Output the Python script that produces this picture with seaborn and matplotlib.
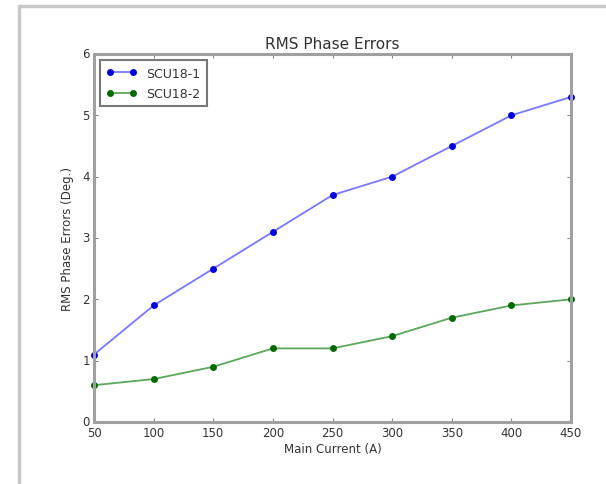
import matplotlib
matplotlib.use("Agg")
import matplotlib.pyplot as plt
from matplotlib.lines import Line2D
import seaborn as sns
import pandas as pd

# data
current = [50, 100, 150, 200, 250, 300, 350, 400, 450]
scu18_1 = [1.1, 1.9, 2.5, 3.1, 3.7, 4.0, 4.5, 5.0, 5.3]
scu18_2 = [0.6, 0.7, 0.9, 1.2, 1.2, 1.4, 1.7, 1.9, 2.0]

df = pd.DataFrame({
    "Main Current (A)": current * 2,
    "RMS Phase Errors (Deg.)": scu18_1 + scu18_2,
    "magnet": ["SCU18-1"] * len(current) + ["SCU18-2"] * len(current),
})

plt.style.use("classic")
sns.set_style("ticks", {"xtick.direction": "in", "ytick.direction": "in"})
plt.rcParams["font.family"] = ["DejaVu Sans"]

fig = plt.figure(figsize=(6.06, 4.85), dpi=100, facecolor="white")
ax = fig.add_axes([94 / 606, 1 - 423 / 485, (571 - 94) / 606, (423 - 55) / 485])

line_col = {"SCU18-1": "#7878ff", "SCU18-2": "#5aa85a"}
dot_col = {"SCU18-1": "#0000e0", "SCU18-2": "#006a00"}

sns.lineplot(data=df, x="Main Current (A)", y="RMS Phase Errors (Deg.)",
             hue="magnet", palette=line_col, marker="o", markersize=5,
             markeredgewidth=0, linewidth=1.3, ax=ax, legend=False)
for ln, name in zip(ax.lines, ["SCU18-1", "SCU18-2"]):
    ln.set_markerfacecolor(dot_col[name])
    ln.set_clip_on(False)

ax.set_xlim(50, 450)
ax.set_ylim(0, 6)
ax.set_xticks(range(50, 451, 50))
ax.set_yticks(range(0, 7))
ax.tick_params(axis="both", which="both", direction="in", top=True, right=True,
               labelsize=8.5, length=3, width=0.8, color="#888888", pad=3,
               labelcolor="#333333")
for s in ax.spines.values():
    s.set_color("#a0a0a0")
    s.set_linewidth(2.2)
ax.set_title("RMS Phase Errors", fontsize=11, pad=4, color="#333333")
ax.set_xlabel("Main Current (A)", fontsize=8.5, labelpad=2, color="#333333")
ax.set_ylabel("RMS Phase Errors (Deg.)", fontsize=8.5, labelpad=6, color="#333333")

handles = [
    Line2D([], [], color=line_col[n], marker="o", markersize=5,
           markerfacecolor=dot_col[n], markeredgewidth=0, lw=1.3)
    for n in ["SCU18-1", "SCU18-2"]
]
leg = ax.legend(handles, ["SCU18-1", "SCU18-2"], loc="upper left", fontsize=9,
                frameon=True, fancybox=False, borderaxespad=0.5, handlelength=2.4,
                numpoints=2, borderpad=0.5, labelspacing=0.6)
leg.get_frame().set_edgecolor("#777777")
leg.get_frame().set_linewidth(1.5)
for t in leg.get_texts():
    t.set_color("#333333")

# gray screenshot border around the figure
fig.add_artist(Line2D([19 / 606, 1], [1 - 7 / 485] * 2, color="#c8c8c8", lw=2.5))
fig.add_artist(Line2D([19 / 606] * 2, [0, 1 - 7 / 485], color="#c8c8c8", lw=2.5))

fig.savefig("out.png", dpi=100, facecolor="white")
